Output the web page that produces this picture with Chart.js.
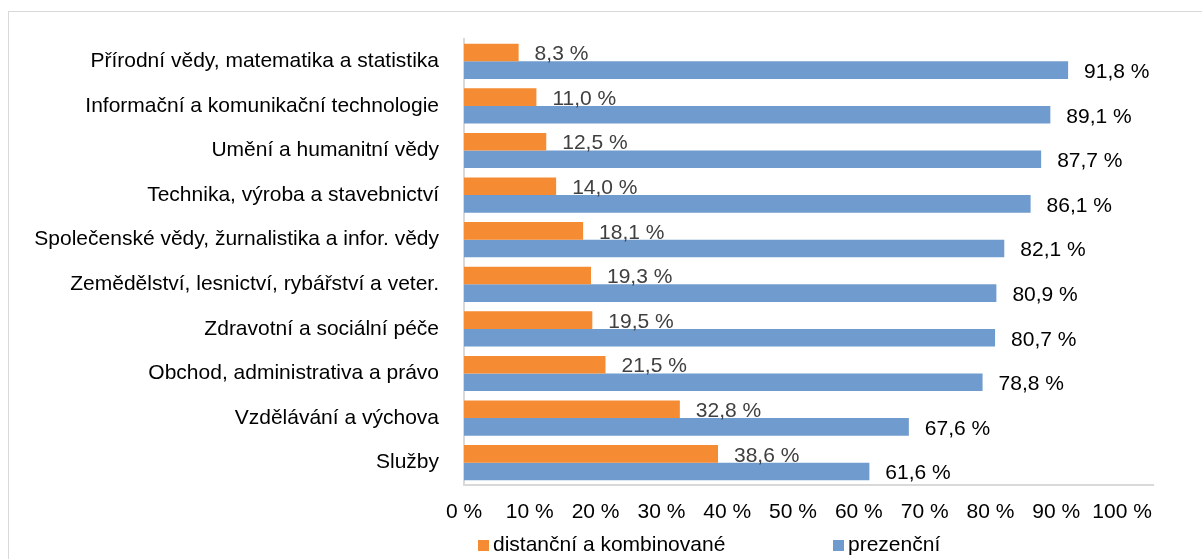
<!DOCTYPE html>
<html>
<head>
<meta charset="utf-8">
<script src="https://cdn.jsdelivr.net/npm/chart.js@4.4.1/dist/chart.umd.min.js"></script>
<style>
  body { margin: 0; background: #fff; }
  canvas { display: block; }
</style>
</head>
<body>
<canvas id="graf" width="1202" height="559"></canvas>
<script>
const categories = [
  'Přírodní vědy, matematika a statistika',
  'Informační a komunikační technologie',
  'Umění a humanitní vědy',
  'Technika, výroba a stavebnictví',
  'Společenské vědy, žurnalistika a infor. vědy',
  'Zemědělství, lesnictví, rybářství a veter.',
  'Zdravotní a sociální péče',
  'Obchod, administrativa a právo',
  'Vzdělávání a výchova',
  'Služby'
]
const seriesNames = ['distanční a kombinované', 'prezenční']
const distancni = [8.3, 11.0, 12.5, 14.0, 18.1, 19.3, 19.5, 21.5, 32.8, 38.6]
const prezencni = [91.8, 89.1, 87.7, 86.1, 82.1, 80.9, 80.7, 78.8, 67.6, 61.6]
const xTicks = [0, 10, 20, 30, 40, 50, 60, 70, 80, 90, 100]

const ORANZOVA = '#f58b32'
const MODRA = '#709bce'
const SEDA = '#d9d9d9'
const FONT = 'Liberation Sans, Arial, sans-serif'
const VELIKOST = 21

const fmt = v => v.toFixed(1).replace('.', ',') + ' %'

// ramecek kolem celeho grafu
const ramecek = {
  id: 'ramecek',
  beforeDraw(chart) {
    const ctx = chart.ctx
    ctx.save()
    ctx.strokeStyle = SEDA
    ctx.lineWidth = 1
    ctx.strokeRect(8.5, 11.5, 1300, 700)
    ctx.restore()
  }
}

// popisky hodnot vpravo od sloupcu
const popisky = {
  id: 'popisky',
  afterDatasetsDraw(chart) {
    const ctx = chart.ctx
    ctx.save()
    ctx.font = VELIKOST + 'px ' + FONT
    ctx.textAlign = 'left'
    ctx.textBaseline = 'middle'
    chart.data.datasets.forEach((ds, i) => {
      const meta = chart.getDatasetMeta(i)
      ctx.fillStyle = i === 0 ? '#404040' : '#000'
      meta.data.forEach((bar, j) => {
        ctx.fillText(fmt(ds.data[j]), bar.x + 16, bar.y + 2)
      })
    })
    ctx.restore()
  }
}

// legenda dole
const legenda = {
  id: 'legenda',
  afterDraw(chart) {
    const ctx = chart.ctx
    const pozice = [478, 833]
    const y = 545
    ctx.save()
    ctx.font = VELIKOST + 'px ' + FONT
    ctx.textAlign = 'left'
    ctx.textBaseline = 'middle'
    chart.data.datasets.forEach((ds, i) => {
      ctx.fillStyle = ds.backgroundColor
      ctx.fillRect(pozice[i], y - 5, 11, 11)
      ctx.fillStyle = '#000'
      ctx.fillText(ds.label, pozice[i] + 15, y)
    })
    ctx.restore()
  }
}

new Chart(document.getElementById('graf'), {
  type: 'bar',
  data: {
    labels: categories,
    datasets: [
      { label: seriesNames[0], data: distancni, backgroundColor: ORANZOVA },
      { label: seriesNames[1], data: prezencni, backgroundColor: MODRA }
    ]
  },
  options: {
    indexAxis: 'y',
    responsive: false,
    animation: false,
    layout: { padding: { top: 39, left: 8, right: 49, bottom: 34 } },
    datasets: { bar: { categoryPercentage: 0.79, barPercentage: 1 } },
    plugins: {
      legend: { display: false },
      tooltip: { enabled: false }
    },
    scales: {
      x: {
        min: 0,
        max: 104.7,
        afterBuildTicks: scale => { scale.ticks = xTicks.map(v => ({ value: v })) },
        afterFit: scale => { scale.height = 40 },
        grid: { display: false, drawTicks: false },
        border: { display: true, color: SEDA, width: 2 },
        ticks: {
          padding: 15,
          maxRotation: 0,
          autoSkip: false,
          color: '#000',
          font: { family: FONT, size: VELIKOST },
          callback: v => v + ' %'
        }
      },
      y: {
        afterFit: scale => { scale.width = 464 - 8 },
        grid: { display: false, drawTicks: false },
        border: { display: true, color: SEDA, width: 2 },
        ticks: {
          padding: 25,
          autoSkip: false,
          color: '#000',
          font: { family: FONT, size: VELIKOST }
        }
      }
    }
  },
  plugins: [ramecek, popisky, legenda]
})
</script>
</body>
</html>
